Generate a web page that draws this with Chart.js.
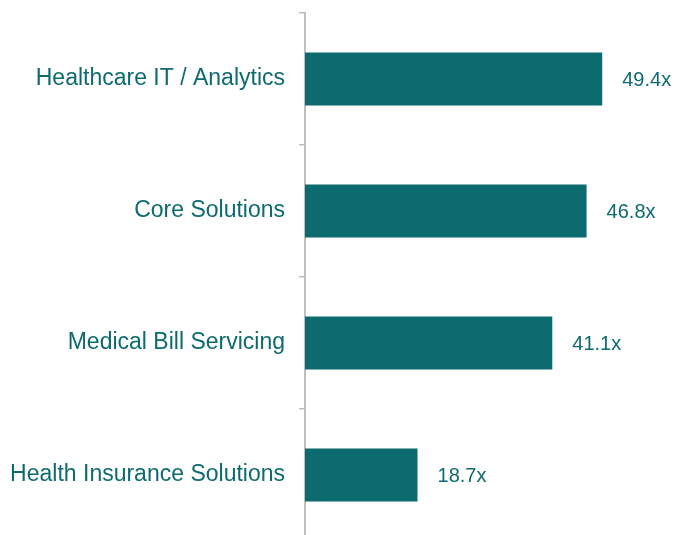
<!DOCTYPE html>
<html>
<head>
<meta charset="utf-8">
<script src="https://cdn.jsdelivr.net/npm/chart.js@4/dist/chart.umd.min.js"></script>
<style>
  html, body { margin: 0; padding: 0; background: #fff; overflow: hidden; width: 676px; height: 535px; }
  #chartMultiples { display: block; }
</style>
</head>
<body>
<canvas id="chartMultiples" width="676" height="545"></canvas>
<script>
var categories = ['Healthcare IT / Analytics', 'Core Solutions', 'Medical Bill Servicing', 'Health Insurance Solutions'];
var multiples = [49.4, 46.8, 41.1, 18.7];
var valueLabels = ['49.4x', '46.8x', '41.1x', '18.7x'];

var teal = '#0d6b6f';
var axisGrey = '#bfbfbf';

// draws the "49.4x" labels to the right of each bar
var barLabels = {
    id: 'barLabels',
    afterDatasetsDraw: function (chart) {
        var ctx = chart.ctx;
        var meta = chart.getDatasetMeta(0);
        ctx.save();
        ctx.fillStyle = teal;
        ctx.font = '20px Arial';
        ctx.textAlign = 'left';
        ctx.textBaseline = 'middle';
        meta.data.forEach(function (bar, i) {
            ctx.fillText(valueLabels[i], bar.x + 20, bar.y + 1);
        });
        ctx.restore();
    }
};

const cmc = document.getElementById('chartMultiples');
var chartMultiples = new Chart(cmc, {
    type: 'bar',
    plugins: [barLabels],
    data: {
        labels: categories,
        datasets: [
            {
                data: multiples,
                backgroundColor: teal,
                borderWidth: 0,
                barPercentage: 0.4,
                categoryPercentage: 1,
            },
        ],
    },
    options: {
        indexAxis: 'y',
        responsive: false,
        animation: false,
        devicePixelRatio: 1,
        layout: {
            padding: { top: 13, right: 10, bottom: 4, left: 0 },
        },
        scales: {
            x: {
                display: false,
                min: 0,
                max: 60,
            },
            y: {
                afterFit: function (scale) {
                    scale.width = 305;
                    scale.paddingTop = 0;
                    scale.paddingBottom = 0;
                },
                border: {
                    display: true,
                    color: axisGrey,
                    width: 2,
                },
                grid: {
                    display: true,
                    drawOnChartArea: false,
                    drawTicks: true,
                    tickLength: 6,
                    color: axisGrey,
                    lineWidth: 1.5,
                },
                ticks: {
                    color: teal,
                    padding: 14,
                    font: {
                        family: 'Arial',
                        size: 23,
                    },
                },
            },
        },
        plugins: {
            legend: { display: false },
            tooltip: { enabled: false },
        },
    },
});
</script>
</body>
</html>
